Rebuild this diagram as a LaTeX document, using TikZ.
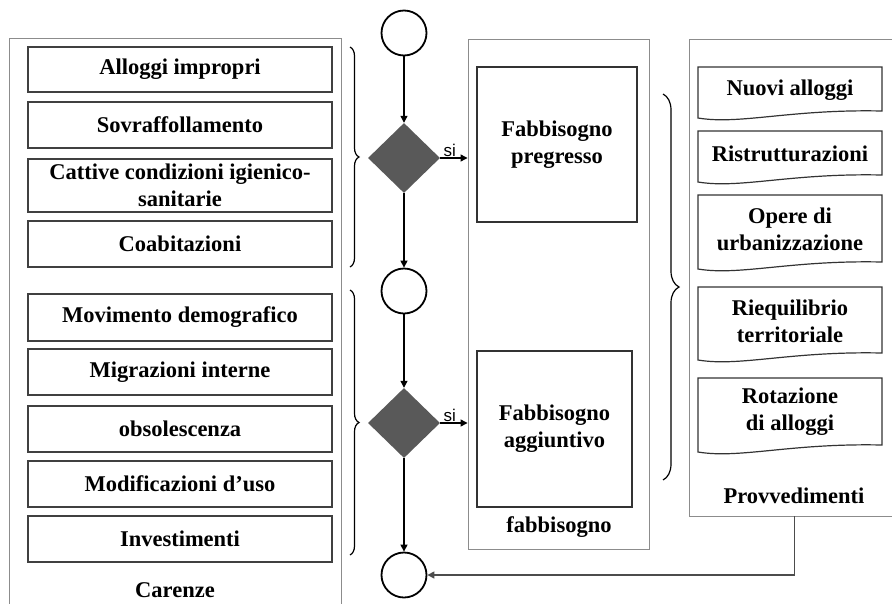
\documentclass[tikz,border=0pt]{standalone}
\usepackage{fontspec}
\setmainfont{Liberation Serif}
\newfontfamily\sifont{Liberation Sans}
\usetikzlibrary{shapes.geometric,arrows.meta,decorations.pathreplacing}

\tikzset{
  voce/.style={draw=black!75,line width=1.2pt,rectangle,minimum width=304pt,minimum height=46pt,align=center,inner sep=1pt},
  gruppo/.style={draw=black!45,line width=0.9pt,rectangle,inner sep=0pt},
  riquadro/.style={draw=black!80,line width=1.2pt,rectangle,align=center,inner sep=0pt},
  nodo/.style={draw,circle,line width=1.8pt,minimum size=45pt,inner sep=0pt},
  scelta/.style={diamond,fill=black!65,minimum width=72pt,minimum height=70pt,inner sep=0pt},
  freccia/.style={line width=1.2pt,-{Triangle[length=7pt,width=7pt]}},
  graffa/.style={decorate,decoration={brace,amplitude=#1},line width=1.2pt},
  foglio/.style={draw=black!80,line width=1.2pt},
  testo/.style={align=center,inner sep=0pt},
}

% documento con bordo inferiore ondulato
\newcommand{\foglioonda}[2]{%
  \draw[foglio] (698,#1) -- (882,#1) -- (882,#2)
    .. controls (790,#2-2) and (740,#2+14) .. (698,#2+7) -- cycle;}

\begin{document}
\begin{tikzpicture}[x=1pt,y=-1pt,font=\fontsize{22.5}{27}\selectfont\bfseries]
\clip (0,0) rectangle (892,603);

% contenitori
\node [gruppo,minimum width=332pt,minimum height=602pt] (car) at(175,339){};
\node [gruppo,minimum width=181pt,minimum height=510pt] (fabb) at(558.5,294){};
\node [gruppo,minimum width=211pt,minimum height=477pt] (provv) at(794.5,277.5){};

% carenze
\node [voce,minimum height=45pt] (alloggi) at(180,69.5){Alloggi impropri};
\node [voce] (sovr) at(180,125){Sovraffollamento};
\node [voce,minimum height=53pt] (cattive) at(180,185.5){Cattive condizioni igienico-\\sanitarie};
\node [voce] (coab) at(180,244){Coabitazioni};
\node [voce,minimum height=47pt] (movim) at(180,317.5){Movimento demografico};
\node [voce] (migr) at(180,372){Migrazioni interne};
\node [voce] (obsol) at(180,429){obsolescenza};
\node [voce] (modif) at(180,484){Modificazioni d'uso};
\node [voce] (invest) at(180,539){Investimenti};
\node [anchor=base,inner sep=0pt] (carlab) at(175,597){Carenze};

% fabbisogno
\node [riquadro,minimum width=160pt,minimum height=155pt] (pregr) at(557,144.5){Fabbisogno\\pregresso};
\node [riquadro,minimum width=155pt,minimum height=156pt] (aggiu) at(554.5,429){Fabbisogno\\aggiuntivo};
\node (fabblab) at(559,527){fabbisogno};

% provvedimenti
\foglioonda{67}{111}
\foglioonda{131}{175}
\foglioonda{195}{262}
\foglioonda{287}{353}
\foglioonda{378}{445}
\node [testo] (nuovi) at(790,90){Nuovi alloggi};
\node [testo] (ristr) at(790,154){Ristrutturazioni};
\node [testo] (opere) at(790,229){Opere di\\urbanizzazione};
\node [testo] (riequ) at(790,321){Riequilibrio\\territoriale};
\node [testo] (rotaz) at(790,412){Rotazione\\di alloggi};
\node (provvlab) at(794,496){Provvedimenti};

% flusso
\node [nodo] (c1) at(404,33){};
\node [scelta] (d1) at(404,158){};
\node [nodo] (c2) at(404,291){};
\node [scelta] (d2) at(404,423){};
\node [nodo] (c3) at(404,575){};

\draw[freccia](c1) -- (d1);
\draw[freccia](d1) -- (c2);
\draw[freccia](c2) -- (d2);
\draw[freccia](d2) -- (c3);
\draw[freccia](d1.east) -- (d1.east -| fabb.west) node[pos=0.35,above,inner sep=1pt,font=\sifont\fontsize{17}{17}\selectfont] (si1){si};
\draw[freccia](d2.east) -- (d2.east -| fabb.west) node[pos=0.35,above,inner sep=1pt,font=\sifont\fontsize{17}{17}\selectfont] (si2){si};
\draw[freccia,draw=black!70,line width=1.5pt](provv.south) |- (c3.east);

% graffe
\draw[graffa=9pt] (350,47) -- (350,267);
\draw[graffa=9pt] (350,290) -- (350,555);
\draw[graffa=16pt] (663,94) -- (663,480);
\end{tikzpicture}
\end{document}
